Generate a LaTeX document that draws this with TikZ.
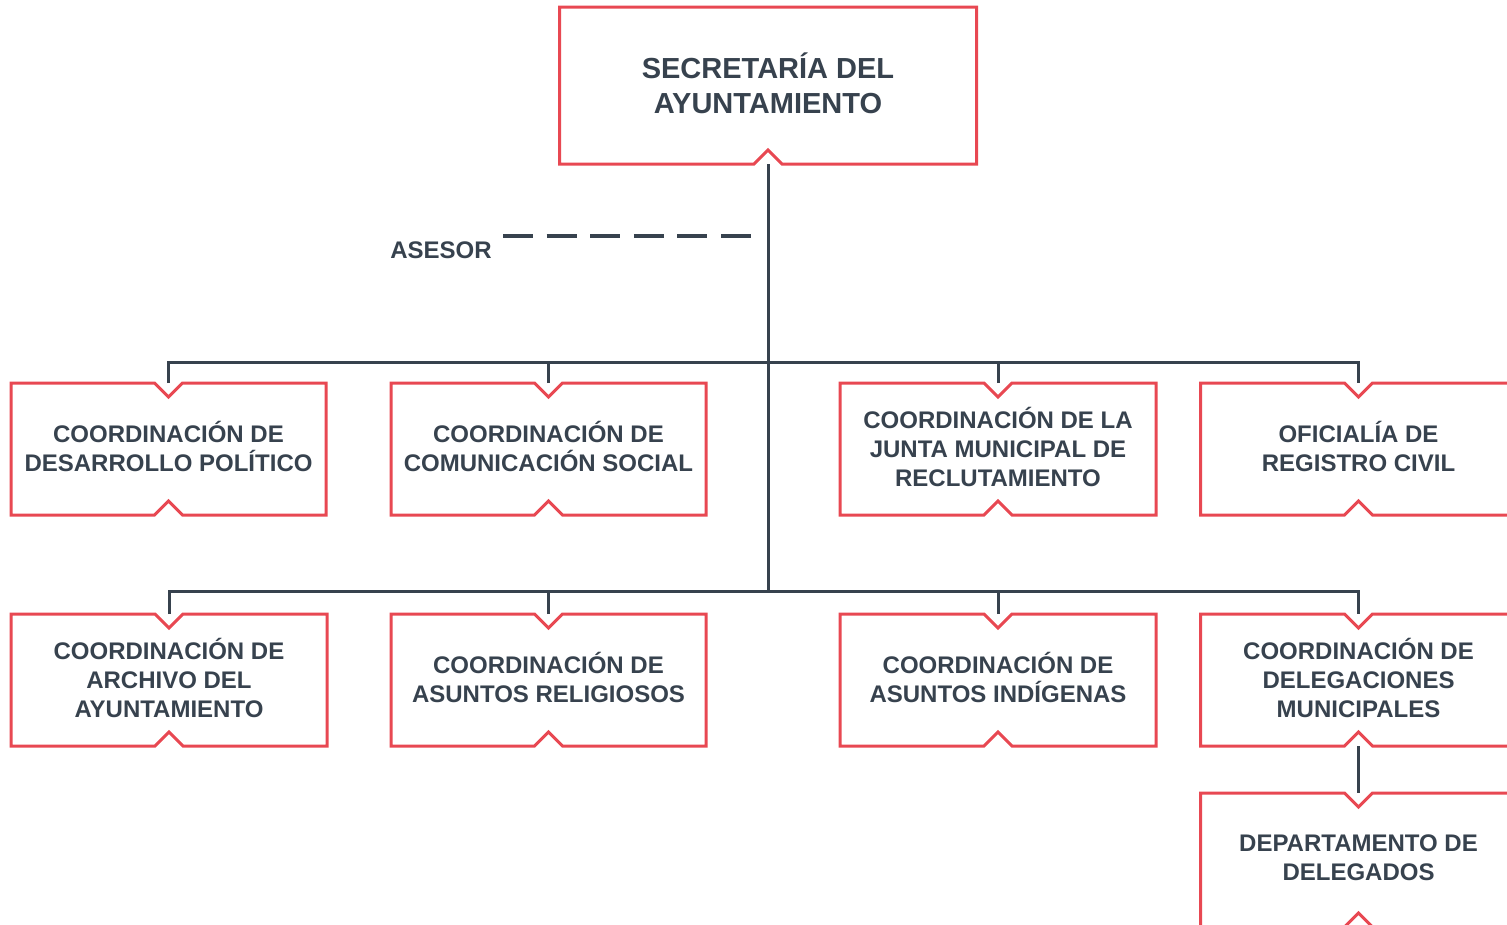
\documentclass[tikz,border=0pt]{standalone}
\usepackage{fontspec}
\setmainfont{Liberation Sans}
\definecolor{boxred}{RGB}{232,72,82}
\definecolor{ink}{RGB}{55,66,78}
\tikzset{
  boxshape/.style={inner sep=0pt, outer sep=0pt},
  boxtext/.style={inner sep=0pt, outer sep=0pt, align=center, text=ink,
    font=\fontsize{24}{29}\selectfont\bfseries},
  boxline/.style={draw=boxred, line width=3pt, line join=miter},
  conn/.style={draw=ink, line width=3pt},
}
\newcommand\orgbox[6]{%
  \node[boxshape, minimum width=#5pt, minimum height={#4-#3}] (#1) at (#2,{(#3+#4)/2}) {};
  \node[boxtext] (#1-t) at ([yshift=2.5pt]#1.center) {#6};
  \draw[boxline] (#1.north west) -- ([xshift=-14pt]#1.north) -- ([yshift=-14pt]#1.north)
    -- ([xshift=14pt]#1.north) -- (#1.north east) -- (#1.south east)
    -- ([xshift=14pt]#1.south) -- ([yshift=14pt]#1.south) -- ([xshift=-14pt]#1.south)
    -- (#1.south west) -- cycle;
}
\begin{document}
\begin{tikzpicture}[x=1pt,y=-1pt]
\useasboundingbox (0,0) rectangle (1507,924);
\clip (0,0) rectangle (1507,924);
% top box
\node[boxshape, minimum width=417pt, minimum height=157pt] (top) at (768,85.5) {};
\node[boxtext, font=\fontsize{29}{35}\selectfont\bfseries] (top-t) at ([yshift=2.5pt]top.center) {SECRETARÍA DEL\\AYUNTAMIENTO};
\draw[boxline] (top.north west) -- (top.north east) -- (top.south east)
  -- ([xshift=14pt]top.south) -- ([yshift=14pt]top.south) -- ([xshift=-14pt]top.south)
  -- (top.south west) -- cycle;
% row 1
\orgbox{a1}{168.5}{383}{515}{315}{COORDINACIÓN DE\\DESARROLLO POLÍTICO}
\orgbox{a2}{548.5}{383}{515}{315}{COORDINACIÓN DE\\COMUNICACIÓN SOCIAL}
\orgbox{a3}{998}{383}{515}{316}{COORDINACIÓN DE LA\\JUNTA MUNICIPAL DE\\RECLUTAMIENTO}
\orgbox{a4}{1358.5}{383}{515}{316}{OFICIALÍA DE\\REGISTRO CIVIL}
% row 2
\orgbox{c1}{169}{614}{746}{316}{COORDINACIÓN DE\\ARCHIVO DEL\\AYUNTAMIENTO}
\orgbox{c2}{548.5}{614}{746}{315}{COORDINACIÓN DE\\ASUNTOS RELIGIOSOS}
\orgbox{c3}{998}{614}{746}{316}{COORDINACIÓN DE\\ASUNTOS INDÍGENAS}
\orgbox{c4}{1358.5}{614}{746}{316}{COORDINACIÓN DE\\DELEGACIONES\\MUNICIPALES}
% row 3
\orgbox{d}{1358.5}{793}{927}{316}{DEPARTAMENTO DE\\DELEGADOS}
% connectors
\coordinate (bus1) at (768,362);
\coordinate (bus2) at (768,591);
\draw[conn] (top.south) -- (bus2);
\draw[conn] (a1.north) |- (bus1) -| (a4.north);
\draw[conn] (a2.north) -- (a2.north |- bus1);
\draw[conn] (a3.north) -- (a3.north |- bus1);
\draw[conn] (c1.north) |- (bus2) -| (c4.north);
\draw[conn] (c2.north) -- (c2.north |- bus2);
\draw[conn] (c3.north) -- (c3.north |- bus2);
\draw[conn] (c4.south) -- (d.north);
% asesor
\node[boxtext] (ases) at (441,250) {ASESOR};
\coordinate (dashstart) at (503,236);
\coordinate (dashend) at (751,236);
\draw[conn, line width=3.5pt, dash pattern=on 30pt off 13.6pt] (dashstart) -- (dashend);
\end{tikzpicture}
\end{document}
